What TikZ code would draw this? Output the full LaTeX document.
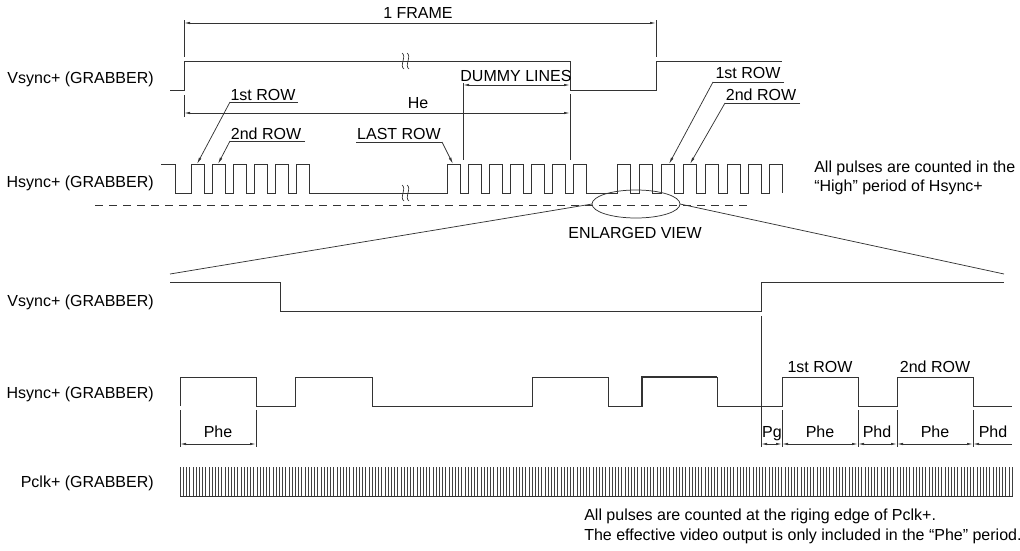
\documentclass[tikz,border=0pt]{standalone}
\usepackage{fontspec}
\setmainfont{Liberation Sans}
\usetikzlibrary{arrows.meta}
\begin{document}
\begin{tikzpicture}[x=0.75pt,y=-0.75pt,
  wave/.style={draw=black!80, line width=0.7pt, line join=miter},
  ext/.style={draw=black!80, line width=0.55pt},
  dim/.style={ext, {Latex[length=4.5pt,width=1.8pt]}-{Latex[length=4.5pt,width=1.8pt]}},
  ldim/.style={ext, {Latex[length=4.5pt,width=1.8pt]}-},
  lead/.style={ext, -{Latex[length=5pt,width=2pt]}},
  clk/.style={draw=black!75, line width=0.4pt},
  lbl/.style={inner sep=0pt, font=\fontsize{12}{14}\selectfont, anchor=base},
  sig/.style={lbl, anchor=base east},
  note/.style={lbl, anchor=base west}]
\useasboundingbox (0,0) rectangle (1020,550);

% ---------- signal names ----------
\node[sig] (nV1) at (154,83) {Vsync+ (GRABBER)};
\node[sig] (nH1) at (154,187) {Hsync+ (GRABBER)};
\node[sig] (nV2) at (154,306) {Vsync+ (GRABBER)};
\node[sig] (nH2) at (154,398) {Hsync+ (GRABBER)};
\node[sig] (nP)  at (154,487) {Pclk+ (GRABBER)};

% ---------- top Vsync ----------
\draw[wave] (170,90) -- (184,90) -- (184,61) -- (570,61) -- (570,90) -- (656,90) -- (656,61) -- (782,61);
% ---------- top Hsync ----------
\draw[wave] (161,164) -- (175,164) -- (175,193)
  foreach \x in {191,212,233,254,275,296} { -- (\x,193) -- (\x,164) -- (\x+13,164) -- (\x+13,193) }
  -- (447,193)
  foreach \x in {447,468,489,510,531,552,573} { -- (\x,193) -- (\x,164) -- (\x+13,164) -- (\x+13,193) }
  -- (617,193)
  foreach \x in {617,639,661,683,705,727,748,769} { -- (\x,193) -- (\x,164) -- (\x+13,164) -- (\x+13,193) };
% break marks
\foreach \by in {61,193} {
  \foreach \bx in {403,408} {
    \draw[wave, line width=0.5pt] (\bx-1,\by-8) .. controls (\bx+4,\by-5) and (\bx-4,\by+5) .. (\bx+1,\by+8);
  }
}

% ---------- 1 FRAME ----------
\coordinate (fL) at (184,23); \coordinate (fR) at (656,23);
\draw[ext] (184,20) -- (184,57);
\draw[ext] (656,20) -- (656,57);
\draw[dim] (fL) -- (fR);
\node[lbl] (tFrame) at (418,18) {1 FRAME};

% ---------- He / DUMMY LINES ----------
\coordinate (heL) at (184,113); \coordinate (heR) at (570,113);
\coordinate (duL) at (463,85); \coordinate (duR) at (570,85);
\draw[ext] (184,95) -- (184,117);
\draw[ext] (570,94) -- (570,160);
\draw[ext] (463,83) -- (463,160);
\draw[dim] (heL) -- (heR);
\draw[dim] (duL) -- (duR);
\node[lbl] (tHe) at (418,108) {He};
\node[lbl] (tDummy) at (516,81) {DUMMY LINES};

% ---------- row leaders (top) ----------
\node[lbl] (t1a) at (263,100) {1st ROW};
\coordinate (u1a) at (230,102); \coordinate (u1b) at (298,102); \coordinate (p1a) at (197,164);
\draw[ext] (u1b) -- (u1a); \draw[lead] (u1a) -- (p1a);
\node[lbl] (t2a) at (266,139) {2nd ROW};
\coordinate (u2a) at (230,141); \coordinate (u2b) at (305,141); \coordinate (p2a) at (218,164);
\draw[ext] (u2b) -- (u2a); \draw[lead] (u2a) -- (p2a);
\node[lbl] (tLast) at (399,139) {LAST ROW};
\coordinate (uLa) at (356,142); \coordinate (uLb) at (442,142); \coordinate (pL) at (453,164);
\draw[ext] (uLa) -- (uLb); \draw[lead] (uLb) -- (pL);
\node[lbl] (t1b) at (748,78) {1st ROW};
\coordinate (u1c) at (713,82); \coordinate (u1d) at (784,82); \coordinate (p1b) at (669,164);
\draw[ext] (u1d) -- (u1c); \draw[lead] (u1c) -- (p1b);
\node[lbl] (t2b) at (761,100) {2nd ROW};
\coordinate (u2c) at (725,103); \coordinate (u2d) at (800,103); \coordinate (p2b) at (690,164);
\draw[ext] (u2d) -- (u2c); \draw[lead] (u2c) -- (p2b);

% ---------- note right ----------
\node[note] (nt1) at (814,172) {All pulses are counted in the};
\node[note] (nt2) at (814,191) {“High” period of Hsync+};

% ---------- enlarged view marker ----------
\draw[ext, dash pattern=on 6pt off 4.5pt] (95,205) -- (753,205);
\draw[ext] (636,204) ellipse [x radius=44, y radius=14];
\coordinate (eL) at (592,204); \coordinate (eR) at (680,204);
\coordinate (zL) at (170,274); \coordinate (zR) at (1004,274);
\draw[ext] (eL) -- (zL);
\draw[ext] (eR) -- (zR);
\node[lbl] (tEnl) at (635,238) {ENLARGED VIEW};

% ---------- enlarged Vsync ----------
\draw[wave] (170,282) -- (280,282) -- (280,311) -- (761,311) -- (761,282) -- (1004,282);
\draw[ext] (761,316) -- (761,447);

% ---------- enlarged Hsync ----------
\draw[wave] (180,406) -- (180,377) -- (256,377) -- (256,406) -- (295,406) -- (295,377)
  -- (372,377) -- (372,406) -- (532,406) -- (532,377) -- (608,377) -- (608,406)
  -- (642,406) -- (642,377) -- (717,377) -- (717,406) -- (782,406) -- (782,377)
  -- (858,377) -- (858,406) -- (897,406) -- (897,377) -- (973,377) -- (973,406) -- (1012,406);
\draw[wave, line width=1.1pt] (642,406) -- (642,377) -- (717,377);
\node[lbl] (t1c) at (820,372) {1st ROW};
\node[lbl] (t2c) at (935,372) {2nd ROW};

% dimension extensions
\foreach \ex in {180,256,782,858,897,973} { \draw[ext] (\ex,410) -- (\ex,447); }
\coordinate (d0) at (180,444); \coordinate (d1) at (256,444);
\coordinate (d2) at (761,444); \coordinate (d3) at (782,444); \coordinate (d4) at (858,444);
\coordinate (d5) at (897,444); \coordinate (d6) at (973,444); \coordinate (d7) at (1012,444);
\draw[dim] (d0) -- (d1);
\draw[dim] (d2) -- (d3);
\draw[dim] (d3) -- (d4);
\draw[dim] (d4) -- (d5);
\draw[dim] (d5) -- (d6);
\draw[ldim] (d6) -- (d7);
\node[lbl] (tPhe0) at (218,437) {Phe};
\node[lbl] (tPg)   at (772,437) {Pg};
\node[lbl] (tPhe1) at (820,437) {Phe};
\node[lbl] (tPhd1) at (877,437) {Phd};
\node[lbl] (tPhe2) at (935,437) {Phe};
\node[lbl] (tPhd2) at (993,437) {Phd};

% ---------- Pclk ----------
\foreach \k in {0,...,260} { \draw[clk] ({180+3.2*\k},467) -- ({180+3.2*\k},496); }
\draw[wave] (180,496) -- (1013,496);

% ---------- bottom notes ----------
\node[note] (nb1) at (584,520) {All pulses are counted at the riging edge of Pclk+.};
\node[note] (nb2) at (584,540) {The effective video output is only included in the “Phe” period.};
\end{tikzpicture}
\end{document}
